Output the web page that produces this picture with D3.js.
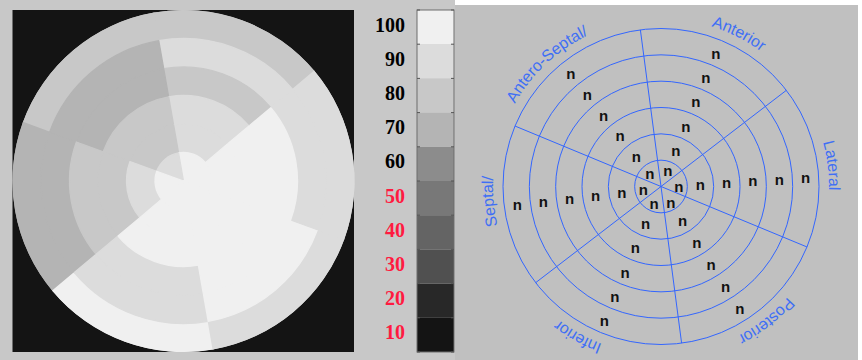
<!DOCTYPE html>
<html>
<head>
<meta charset="utf-8">
<script src="https://cdn.jsdelivr.net/npm/d3@7"></script>
<style>
  html, body { margin: 0; padding: 0; background: #ffffff; }
  svg { display: block; }
</style>
</head>
<body>
<svg id="chart" width="862" height="360"></svg>
<script>
// Wall segments, counter-clockwise starting at the anterior wall
const segments = ["Anterior", "Antero-Septal/", "Septal/", "Inferior", "Posterior", "Lateral"];

// Scores per segment, ring 1 (apex) out to ring 6 (base)
const anterior     = [100,  90,  90,  80,  90,  80];
const anteroSeptal = [ 90,  80,  80,  70,  70,  80];
const septal       = [100,  90,  80,  80,  70,  70];
const inferior     = [100, 100, 100,  90,  90, 100];
const posterior    = [100, 100, 100, 100, 100,  90];
const lateral      = [100, 100, 100, 100,  90,  90];
const segmentScores = [anterior, anteroSeptal, septal, inferior, posterior, lateral];

// Cell annotations on the labelled map (same segment order, apex to base)
const anteriorTags     = ["n", "n", "n", "n", "n", "n"];
const anteroSeptalTags = ["n", "n", "n", "n", "n", "n"];
const septalTags       = ["n", "n", "n", "n", "n", "n"];
const inferiorTags     = ["n", "n", "n", "n", "n", "n"];
const posteriorTags    = ["n", "n", "n", "n", "n", "n"];
const lateralTags      = ["n", "n", "n", "n", "n", "n"];
const segmentTags = [anteriorTags, anteroSeptalTags, septalTags, inferiorTags, posteriorTags, lateralTags];

// Colour bar levels and their grey shades
const scoreTicks  = [10, 20, 30, 40, 50, 60, 70, 80, 90, 100];
const scoreShades = ["#141414", "#282828", "#505050", "#646464", "#787878",
                     "#8c8c8c", "#b4b4b4", "#c8c8c8", "#dcdcdc", "#f0f0f0"];

const nRings = 6;
const deg = Math.PI / 180;
const svg = d3.select("#chart");

// ---- panels -------------------------------------------------------------
svg.append("rect").attr("x", 0).attr("y", 0).attr("width", 455).attr("height", 360)
   .attr("fill", "#c8c8c8");
svg.append("rect").attr("x", 455).attr("y", 5).attr("width", 403).attr("height", 355)
   .attr("fill", "#c0c0c0");

const shade = d3.scaleOrdinal(scoreTicks, scoreShades);

// ---- grey-scale polar map ----------------------------------------------
const mapBox = {x: 12.5, y: 10, w: 341.5, h: 342};
svg.append("rect").attr("x", mapBox.x).attr("y", mapBox.y)
   .attr("width", mapBox.w).attr("height", mapBox.h).attr("fill", "#141414");

const mapR = d3.scaleLinear([0, nRings], [0, 171]);
// angle of the centre of each segment (d3 convention: 0 = up, clockwise)
const mapAngle = d3.scaleLinear([0, 1], [20 * deg, -40 * deg]);
const halfSpan = 30 * deg;

const mapG = svg.append("g").attr("transform", "translate(183.5,181)");
const cells = [];
segmentScores.forEach((scores, si) => {
  scores.forEach((v, ri) => cells.push({si, ri, v}));
});
const arcGen = d3.arc();
// outer rings first so every inner cell's edge sits on top of its neighbour
cells.sort((a, b) => b.ri - a.ri);
mapG.selectAll("path.cell").data(cells).join("path")
  .attr("class", "cell")
  .attr("d", d => arcGen({
    innerRadius: mapR(d.ri), outerRadius: mapR(d.ri + 1),
    startAngle: mapAngle(d.si) - halfSpan, endAngle: mapAngle(d.si) + halfSpan
  }))
  .attr("fill", d => shade(d.v))
  .attr("stroke", d => shade(d.v))
  .attr("stroke-width", d => d.ri === nRings - 1 ? 0 : 1.3)
  .attr("stroke-linejoin", "round");
// seal the seams along the sector boundaries of the outer ring
mapG.selectAll("path.outer").data(cells.filter(c => c.ri === nRings - 1)).join("path")
  .attr("class", "outer")
  .attr("d", d => arcGen({
    innerRadius: mapR(d.ri) - 1, outerRadius: mapR(d.ri + 1),
    startAngle: mapAngle(d.si) - halfSpan - 0.004, endAngle: mapAngle(d.si) + halfSpan + 0.004
  }))
  .attr("fill", d => shade(d.v));
mapG.selectAll("path.inner").data(cells.filter(c => c.ri < nRings - 1)).join("path")
  .attr("class", "inner")
  .attr("d", d => arcGen({
    innerRadius: mapR(d.ri), outerRadius: mapR(d.ri + 1),
    startAngle: mapAngle(d.si) - halfSpan, endAngle: mapAngle(d.si) + halfSpan
  }))
  .attr("fill", d => shade(d.v))
  .attr("stroke", d => shade(d.v))
  .attr("stroke-width", 1.3)
  .attr("stroke-linejoin", "round");

// ---- colour bar ----------------------------------------------------------
const barX = 417, barW = 37;
const barY = d3.scaleBand(scoreTicks.slice().reverse(), [10, 352]).padding(0);
const barG = svg.append("g");
barG.selectAll("rect.level").data(scoreTicks).join("rect")
  .attr("class", "level")
  .attr("x", barX).attr("width", barW)
  .attr("y", d => barY(d)).attr("height", barY.bandwidth())
  .attr("fill", d => shade(d));
barG.append("rect").attr("x", barX).attr("y", 10).attr("width", barW).attr("height", 342)
  .attr("fill", "none").attr("stroke", "#6c6c6c").attr("stroke-width", 1);
// boundary ticks on both inner edges
const edges = scoreTicks.map(d => barY(d)).concat([352]);
barG.selectAll("line.tl").data(edges).join("line")
  .attr("x1", barX).attr("x2", barX + 3).attr("y1", d => d).attr("y2", d => d)
  .attr("stroke", "#555").attr("stroke-width", 1);
barG.selectAll("line.tr").data(edges).join("line")
  .attr("x1", barX + barW - 3).attr("x2", barX + barW).attr("y1", d => d).attr("y2", d => d)
  .attr("stroke", "#555").attr("stroke-width", 1);

const barAxis = svg.append("g").attr("transform", `translate(${barX},0)`)
  .call(d3.axisLeft(barY).tickSize(0).tickPadding(12));
barAxis.select(".domain").remove();
barAxis.selectAll("text")
  .attr("dy", "0.22em")
  .style("font-family", "'Liberation Serif', 'Times New Roman', serif")
  .style("font-weight", "bold")
  .style("font-size", "20px")
  .attr("fill", d => d <= 50 ? "#ff1a40" : "#000000");

// ---- labelled polar map -------------------------------------------------
const cx = 661, cy = 186.5, outerR = 158;
const blue = "#3366ff";
const ringR = d3.scaleLinear([0, nRings], [0, outerR]);
const segAngle = d3.scaleLinear([0, 1], [22.5 * deg, -37.5 * deg]);
const labG = svg.append("g").attr("transform", `translate(${cx},${cy})`);

labG.selectAll("circle.ring").data(d3.range(1, nRings + 1)).join("circle")
  .attr("class", "ring")
  .attr("r", d => ringR(d))
  .attr("fill", "none").attr("stroke", blue).attr("stroke-width", 1);

const spokes = d3.range(segments.length).map(i => segAngle(i) + halfSpan);
labG.selectAll("line.spoke").data(spokes).join("line")
  .attr("class", "spoke")
  .attr("x1", 0).attr("y1", 0)
  .attr("x2", a => outerR * Math.sin(a))
  .attr("y2", a => -outerR * Math.cos(a))
  .attr("stroke", blue).attr("stroke-width", 1);

// the tags run along a ray slightly off each segment's centre line
const tagAngle = [22.2, -38.5, -97, -157, -213, 86].map(a => a * deg);
const tagCells = [];
segmentTags.forEach((tags, si) => tags.forEach((t, ri) => tagCells.push({si, ri, t})));
const tagRadius = ri => ri === 0 ? ringR(0.68) : ringR(ri + 0.5);
labG.selectAll("text.tag").data(tagCells).join("text")
  .attr("class", "tag")
  .attr("x", d => tagRadius(d.ri) * Math.sin(tagAngle[d.si]))
  .attr("y", d => -tagRadius(d.ri) * Math.cos(tagAngle[d.si]))
  .attr("dy", "0.42em")
  .attr("text-anchor", "middle")
  .style("font-family", "'Liberation Sans', Arial, sans-serif")
  .style("font-weight", "bold")
  .style("font-size", "15px")
  .attr("fill", "#111")
  .text(d => d.t);

// segment names set on a circle just outside the outer ring, read clockwise
const nameR = 168;
const nameAngle = [27, -43, -95, -151, -218, 83];   // degrees, d3 convention
labG.append("path")
  .attr("id", "namePath")
  .attr("fill", "none")
  .attr("d", `M0,${nameR} A${nameR},${nameR} 0 1 1 0,${-nameR} A${nameR},${nameR} 0 1 1 0,${nameR}`);
labG.selectAll("text.name").data(segments).join("text")
  .attr("class", "name")
  .style("font-family", "'Liberation Sans', Arial, sans-serif")
  .style("font-size", "16px")
  .attr("fill", "#3f6ff5")
  .append("textPath")
  .attr("href", "#namePath")
  .attr("startOffset", (d, i) => {
    const a = ((nameAngle[i] - 180) % 360 + 360) % 360;
    return (a / 360 * 100) + "%";
  })
  .attr("text-anchor", "middle")
  .text(d => d);
</script>
</body>
</html>
